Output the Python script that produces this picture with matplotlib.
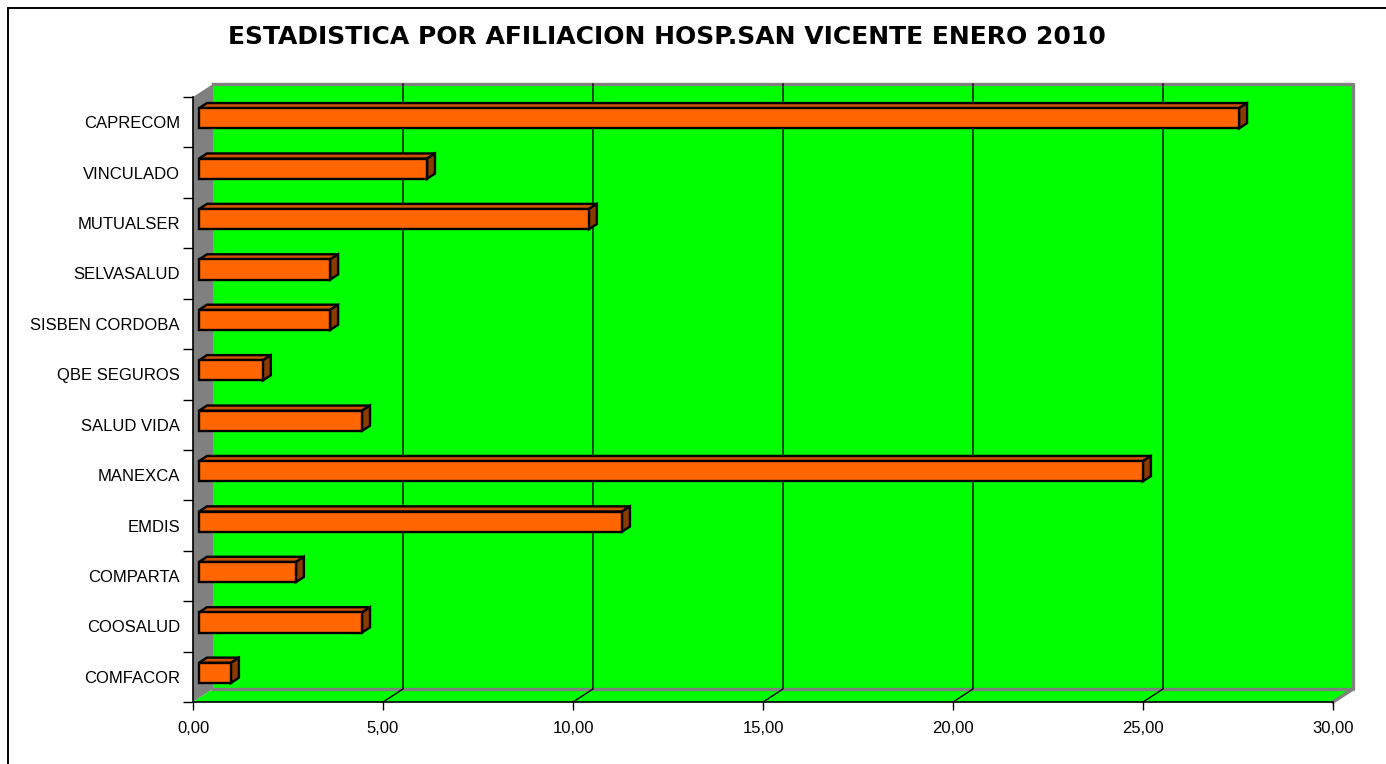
import numpy as np
import matplotlib.pyplot as plt
from matplotlib.patches import Polygon, Rectangle

plt.rcParams['font.family'] = ['Liberation Sans', 'DejaVu Sans']

# datos (porcentaje por afiliacion), de arriba hacia abajo
categorias = ['CAPRECOM', 'VINCULADO', 'MUTUALSER', 'SELVASALUD', 'SISBEN CORDOBA',
              'QBE SEGUROS', 'SALUD VIDA', 'MANEXCA', 'EMDIS', 'COMPARTA',
              'COOSALUD', 'COMFACOR']
valores = [27.37, 6.00, 10.26, 3.45, 3.45, 1.68, 4.29, 24.84, 11.13, 2.55, 4.29, 0.84]
ticks_x = [0, 5, 10, 15, 20, 25, 30]

W, H = 1386, 764
fig = plt.figure(figsize=(W / 100, H / 100), dpi=100)
ax = fig.add_axes([193 / W, 1 - 702 / H, 1140 / W, 605 / H])

n = len(categorias)
xmax = 30
ax.set_xlim(0, xmax)
ax.set_ylim(-0.5, n - 0.5)

# profundidad del efecto 3D en unidades de datos
DX = 20 / 38
DY = 13 / (605 / n)
gris = '#808080'
verde = '#00FF00'

# pared izquierda
ax.add_patch(Polygon([(0, -0.5), (DX, -0.5 + DY), (DX, n - 0.5 + DY), (0, n - 0.5)],
                     closed=True, fc=gris, ec='none', clip_on=False, zorder=0.5))
# suelo
ax.add_patch(Polygon([(0, -0.5), (xmax, -0.5), (xmax + DX, -0.5 + DY), (DX, -0.5 + DY)],
                     closed=True, fc=verde, ec='none', clip_on=False, zorder=0.5))
# pared del fondo
ax.add_patch(Rectangle((DX, -0.5 + DY), xmax, n, fc=verde, ec='none',
                       clip_on=False, zorder=0.5))
# bordes grises
ax.plot([DX, xmax + DX, xmax + DX, DX], [n - 0.5 + DY, n - 0.5 + DY, -0.5 + DY, -0.5 + DY],
        color=gris, lw=2.4, clip_on=False, zorder=0.6)
ax.plot([xmax, xmax + DX], [-0.5, -0.5 + DY], color=gris, lw=2.4, clip_on=False, zorder=0.6)

# lineas de division
for xv in ticks_x[1:-1]:
    ax.plot([xv, xv + DX, xv + DX], [-0.5, -0.5 + DY, n - 0.5 + DY],
            color='black', lw=1.0, clip_on=False, zorder=0.7)

# barras 3D
f0, f1 = 0.3, 0.7
h = 0.2
for i, v in enumerate(valores):
    y = n - 1 - i
    ox0, oy0 = f0 * DX, f0 * DY
    ox1, oy1 = f1 * DX, f1 * DY
    frente = [(ox0, y - h + oy0), (v + ox0, y - h + oy0), (v + ox0, y + h + oy0), (ox0, y + h + oy0)]
    arriba = [(ox0, y + h + oy0), (v + ox0, y + h + oy0), (v + ox1, y + h + oy1), (ox1, y + h + oy1)]
    lado = [(v + ox0, y - h + oy0), (v + ox1, y - h + oy1), (v + ox1, y + h + oy1), (v + ox0, y + h + oy0)]
    ax.add_patch(Polygon(arriba, closed=True, fc='#CC5200', ec='black', lw=1.7,
                         joinstyle='miter', clip_on=False, zorder=3))
    ax.add_patch(Polygon(lado, closed=True, fc='#8B3A00', ec='black', lw=1.7,
                         joinstyle='miter', clip_on=False, zorder=3))
    ax.add_patch(Polygon(frente, closed=True, fc='#FF6600', ec='black', lw=1.7,
                         joinstyle='miter', clip_on=False, zorder=3))

# ejes
ax.set_facecolor('none')
for s in ['top', 'right']:
    ax.spines[s].set_visible(False)
for s in ['left', 'bottom']:
    ax.spines[s].set_color('black')
    ax.spines[s].set_linewidth(1.2)
    ax.spines[s].set_zorder(4)

ax.set_xticks(ticks_x)
ax.set_xticklabels([f'{t:.2f}'.replace('.', ',') for t in ticks_x], fontsize=12)
ax.tick_params(axis='x', direction='out', length=6, width=1, pad=8)

ax.set_yticks(np.arange(-0.5, n, 1))
ax.set_yticklabels([])
ax.tick_params(axis='y', which='major', direction='out', length=7, width=1)
ax.set_yticks(np.arange(n), minor=True)
ax.set_yticklabels(categorias[::-1], minor=True, fontsize=12)
ax.tick_params(axis='y', which='minor', length=0, pad=9.5)

fig.text(667 / W, 1 - 37 / H, 'ESTADISTICA POR AFILIACION HOSP.SAN VICENTE ENERO 2010',
         ha='center', va='center', fontsize=18, fontweight='bold', family='DejaVu Sans')

# marco exterior
fig.add_artist(Rectangle((8 / W, -0.1), 1.2, 1.1 - 8 / H, transform=fig.transFigure,
                         fill=False, ec='black', lw=1.4))

fig.savefig('out.png', dpi=100)
